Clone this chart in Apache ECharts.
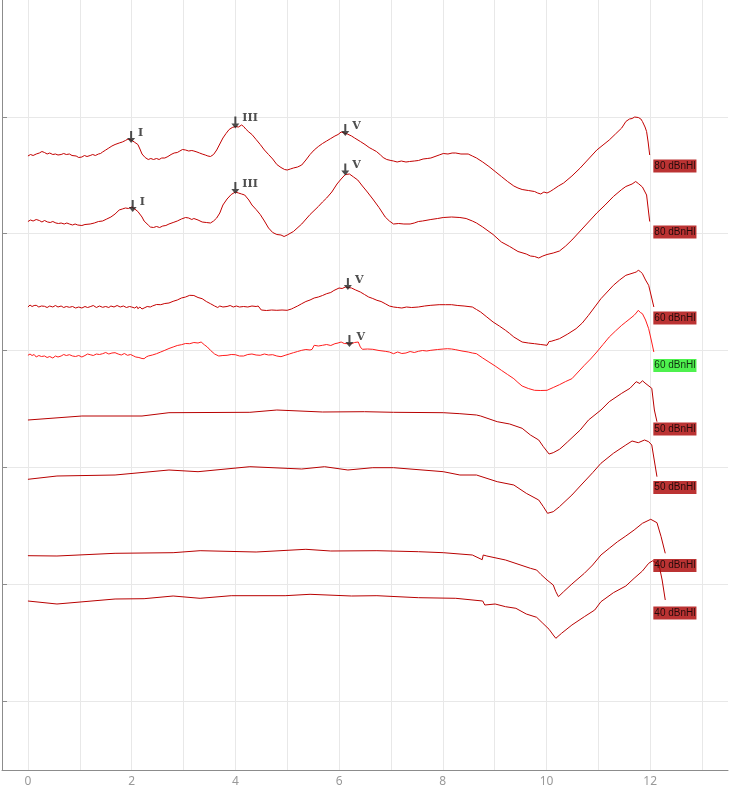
<!DOCTYPE html>
<html><head><meta charset="utf-8">
<script src="https://cdn.jsdelivr.net/npm/echarts@6/dist/echarts.min.js"></script>
<style>html,body{margin:0;padding:0;background:#fff}#c{width:730px;height:791px}</style>
</head><body><div id="c"></div>
<script>
// time axis (ms)
const xTickValues = [0,1,2,3,4,5,6,7,8,9,10,11,12,13];
const xLabelValues = [0,2,4,6,8,10,12];
const yTickValues = [69,186,303,420,537,653];

const trace1 = [[0.00,614],[0.05,615.5],[0.10,614.5],[0.16,616],[0.22,617],[0.27,618.5],[0.32,617.5],[0.37,616],[0.42,617],[0.48,615.5],[0.53,616],[0.58,615],[0.64,615.5],[0.69,616.5],[0.74,615.5],[0.80,616],[0.85,614.5],[0.88,613],[0.93,614],[0.98,612.5],[1.04,613],[1.09,614.5],[1.14,613.5],[1.20,614.5],[1.25,615.5],[1.30,614.5],[1.36,616],[1.40,616.5],[1.44,618],[1.50,620],[1.56,622],[1.62,624],[1.68,625.5],[1.76,627],[1.82,628],[1.88,629.5],[1.93,631],[1.99,630],[2.05,628],[2.12,625.5],[2.16,621],[2.20,616],[2.26,612.5],[2.32,610.5],[2.37,611.5],[2.42,610.5],[2.48,611.5],[2.53,610.5],[2.58,612],[2.64,612],[2.70,613.5],[2.76,615.5],[2.82,617],[2.88,617.5],[2.93,619],[2.98,620.5],[3.04,620],[3.10,619],[3.16,619.5],[3.20,619],[3.26,618],[3.31,617],[3.36,616],[3.42,615],[3.47,614],[3.52,613.5],[3.58,615.5],[3.64,620],[3.70,626],[3.76,632],[3.82,636.5],[3.88,640.5],[3.94,642.5],[4.00,643.5],[4.06,643],[4.12,645],[4.16,643.5],[4.20,641],[4.26,638],[4.32,635.5],[4.40,630.5],[4.48,625.5],[4.56,620],[4.64,615.5],[4.72,611],[4.80,605.5],[4.88,602.5],[4.95,600.5],[5.00,600],[5.06,601],[5.12,602],[5.20,603],[5.28,605],[5.36,610],[5.44,615.5],[5.52,620],[5.60,623.5],[5.68,626.5],[5.76,629],[5.84,631.5],[5.92,634],[5.98,635.5],[6.04,638],[6.10,637],[6.16,636],[6.24,634],[6.30,632],[6.41,628.5],[6.50,625.5],[6.58,622.5],[6.65,620.5],[6.72,618.5],[6.80,615],[6.85,612.5],[6.92,610.5],[7.00,609.5],[7.05,609],[7.12,608],[7.20,609],[7.29,608],[7.36,608.5],[7.45,609],[7.53,609.5],[7.62,611],[7.70,611.5],[7.77,612],[7.85,613.5],[7.93,615],[8.01,616.5],[8.10,616],[8.18,617],[8.25,617],[8.35,616],[8.49,616],[8.57,614],[8.65,612],[8.77,608],[8.89,603.5],[9.01,598.5],[9.13,593.5],[9.25,588.5],[9.37,584],[9.45,582],[9.53,580.5],[9.65,579.5],[9.77,578.5],[9.83,577],[9.89,576],[9.95,578],[10.01,577],[10.07,578.5],[10.13,580.5],[10.23,584],[10.33,587],[10.49,594],[10.65,602],[10.81,611],[10.97,620],[11.09,625],[11.21,630],[11.33,636],[11.45,642],[11.50,646],[11.53,648.5],[11.60,651],[11.65,651.5],[11.70,653],[11.77,652.5],[11.82,651],[11.85,648.5],[11.90,643],[11.93,638.5],[11.96,628],[11.99,615]];

const trace2 = [[0.00,548.5],[0.05,550],[0.10,549],[0.16,550.5],[0.22,549.5],[0.27,548],[0.32,549.5],[0.38,548],[0.43,547.5],[0.48,548.5],[0.54,547],[0.59,546.5],[0.64,547],[0.70,546],[0.75,547],[0.80,546],[0.86,545],[0.91,546],[0.96,545],[1.04,544.5],[1.10,545.5],[1.20,546],[1.28,547],[1.36,548.5],[1.44,549],[1.52,551],[1.60,553],[1.68,556],[1.76,560],[1.82,561],[1.88,562],[1.94,561.5],[2.00,563],[2.06,561],[2.12,558.5],[2.20,553],[2.24,549],[2.32,545],[2.36,543],[2.42,542.5],[2.48,543.5],[2.54,542.5],[2.60,544],[2.66,544.5],[2.72,546],[2.80,547.5],[2.88,549],[2.96,551],[3.04,552.5],[3.10,552],[3.16,550.5],[3.20,551.5],[3.28,550],[3.36,548],[3.44,547.5],[3.52,547],[3.58,549],[3.64,552],[3.70,557],[3.76,565],[3.84,571],[3.92,575.5],[4.00,578],[4.06,577],[4.12,576],[4.18,575],[4.26,570],[4.32,565],[4.40,560.5],[4.48,555.5],[4.56,549],[4.64,542],[4.72,537.5],[4.80,535.5],[4.88,535],[4.94,533.5],[5.00,535],[5.12,538.5],[5.28,546],[5.44,555.5],[5.60,563.5],[5.68,568],[5.76,572],[5.86,578],[5.96,586],[6.04,591],[6.12,595.5],[6.20,596],[6.28,593],[6.36,590],[6.45,584],[6.53,579],[6.65,571],[6.77,562.5],[6.89,553],[6.97,549],[7.05,546],[7.15,546.5],[7.25,546],[7.37,546],[7.45,547],[7.53,548.5],[7.61,549],[7.77,550.5],[7.90,551.5],[8.01,552.5],[8.17,553],[8.33,552.5],[8.45,551.5],[8.57,549],[8.65,547],[8.77,543],[8.97,535.5],[9.13,528],[9.29,523.5],[9.37,521],[9.45,518.5],[9.61,516],[9.69,514],[9.77,513.5],[9.85,512],[9.93,514],[10.01,515.5],[10.13,517],[10.25,519],[10.37,524],[10.49,530],[10.65,539],[10.81,548],[10.97,557],[11.13,565],[11.29,573.5],[11.45,580.5],[11.53,583.5],[11.65,586],[11.72,588.5],[11.77,586.5],[11.85,583],[11.93,575],[11.99,548.5]];

const trace3 = [[0.00,463],[0.04,465],[0.08,463.5],[0.12,464.5],[0.16,464.7],[0.21,463],[0.26,464],[0.32,463.7],[0.37,462.5],[0.42,464],[0.48,463],[0.53,464.5],[0.58,463],[0.64,464],[0.69,462.5],[0.74,463.5],[0.80,462.7],[0.86,463.5],[0.92,462],[0.98,463],[1.04,462],[1.10,463.5],[1.15,462.5],[1.20,463.3],[1.26,464.5],[1.32,462.5],[1.38,464],[1.44,462.7],[1.50,463.5],[1.56,462.5],[1.60,464],[1.66,463],[1.72,464.5],[1.78,463],[1.84,464],[1.90,462.5],[1.96,463.5],[2.00,463],[2.06,462],[2.10,463.5],[2.12,461.3],[2.16,463],[2.20,461],[2.24,462],[2.30,463.5],[2.36,463],[2.40,464],[2.48,465.5],[2.56,465.3],[2.64,466.5],[2.72,467],[2.80,468.7],[2.88,470],[2.96,472],[3.04,473],[3.12,474.7],[3.20,474.5],[3.28,472.5],[3.36,471.3],[3.44,468.5],[3.52,466.3],[3.60,464],[3.66,462.5],[3.70,464],[3.76,463],[3.84,463.5],[3.90,464.5],[3.96,463],[4.02,464],[4.08,463],[4.16,463.5],[4.24,463],[4.32,464],[4.40,463.5],[4.44,464],[4.50,460],[4.60,459.5],[4.70,460],[4.80,459.7],[4.90,460],[5.00,459.7],[5.08,461],[5.12,462],[5.20,464],[5.28,466.3],[5.36,468.5],[5.44,470],[5.52,472],[5.60,473],[5.68,474.5],[5.76,476.3],[5.84,477.5],[5.90,479.5],[5.96,481],[6.00,482],[6.06,481.5],[6.12,483],[6.18,482.5],[6.24,482],[6.32,480],[6.41,478],[6.49,475.5],[6.57,473],[6.65,471.5],[6.73,469.7],[6.81,468.5],[6.89,466.3],[6.97,464],[7.05,463],[7.13,462.5],[7.21,462],[7.30,463],[7.40,462.5],[7.53,463],[7.65,464],[7.77,464.7],[7.85,465],[7.93,465.3],[8.05,465.3],[8.17,465.3],[8.29,464.5],[8.41,464],[8.57,463],[8.65,460.5],[8.73,458],[8.85,453],[8.97,448],[9.09,444],[9.21,439.7],[9.29,436.5],[9.37,433],[9.45,430.5],[9.53,428],[9.65,427],[9.77,426.3],[9.89,425.5],[10.01,424.7],[10.05,428.5],[10.09,428.7],[10.17,430],[10.25,431.3],[10.41,436],[10.57,441.3],[10.69,447],[10.81,454.7],[10.93,463],[11.05,471.3],[11.17,478],[11.29,484.7],[11.41,490],[11.53,494.7],[11.61,496],[11.69,497.3],[11.73,498],[11.77,499.7],[11.81,498.5],[11.85,496.3],[11.91,490],[11.97,484.7],[12.02,474],[12.07,463]];

const trace4 = [[0.00,414.7],[0.04,416],[0.08,414.5],[0.12,415.5],[0.16,413],[0.21,414.5],[0.26,413.5],[0.32,414],[0.37,412.5],[0.42,413.5],[0.48,412],[0.53,414],[0.58,413],[0.64,414],[0.69,415.5],[0.74,414.5],[0.80,415.3],[0.86,414],[0.92,413.5],[0.98,414.5],[1.04,413],[1.10,414.5],[1.15,416],[1.20,415.3],[1.26,414.5],[1.32,416],[1.38,415.5],[1.44,416.3],[1.50,417.5],[1.56,416],[1.62,417],[1.68,417.3],[1.74,416],[1.80,415],[1.86,416.5],[1.92,414.7],[1.98,415.5],[2.04,414],[2.08,413],[2.14,412.5],[2.20,411.5],[2.24,411.3],[2.28,413],[2.32,414],[2.40,415],[2.48,416.3],[2.56,418],[2.64,419.7],[2.72,421.5],[2.80,423],[2.88,424.5],[2.96,425.3],[3.04,426.5],[3.12,426.3],[3.20,427.5],[3.28,427],[3.34,428],[3.40,425.3],[3.46,423],[3.52,419.7],[3.60,416],[3.68,414],[3.76,414.5],[3.84,414.7],[3.92,415.5],[4.00,415.3],[4.08,414],[4.16,414],[4.24,415.5],[4.32,416],[4.40,415],[4.48,414.7],[4.56,416],[4.64,415],[4.72,415.3],[4.80,414],[4.88,413.3],[4.96,414.7],[5.04,416],[5.12,417.3],[5.20,418.5],[5.28,419.7],[5.36,420.5],[5.44,420],[5.48,420.7],[5.52,424.7],[5.60,424],[5.68,424.7],[5.76,425.5],[5.84,424.5],[5.92,426.3],[5.98,427],[6.04,428],[6.10,426.5],[6.17,426.3],[6.24,426.3],[6.30,427.5],[6.37,428],[6.41,423],[6.45,420.7],[6.55,421],[6.65,420.7],[6.77,419.5],[6.89,418.7],[6.97,418],[7.05,416.3],[7.13,418],[7.21,416.5],[7.29,417],[7.37,418.5],[7.45,417.5],[7.53,418.7],[7.61,419.5],[7.69,419],[7.77,419.7],[7.90,420.5],[8.01,421],[8.09,421.3],[8.17,421],[8.25,420.3],[8.37,419],[8.49,418],[8.57,417],[8.65,416.3],[8.77,412],[8.89,408],[9.01,404],[9.13,399.7],[9.25,395.5],[9.37,391.3],[9.45,387.5],[9.53,384],[9.65,381.5],[9.77,379.7],[9.89,379.5],[10.01,379.7],[10.13,382.5],[10.25,385.3],[10.37,388.5],[10.49,391.3],[10.61,398],[10.73,404.7],[10.85,411],[10.97,418],[11.09,425.5],[11.21,433],[11.33,439],[11.45,444.7],[11.53,448],[11.61,451.3],[11.69,454.7],[11.73,457],[11.77,459.7],[11.81,457.5],[11.85,456.3],[11.91,450],[11.97,441.3],[12.02,430],[12.07,418]];

const trace5 = [[0,350],[1.04,354],[2.20,354],[2.72,357.3],[4.28,357.7],[4.80,360],[5.68,358],[6.49,358.3],[7.05,357.7],[8.01,357.3],[8.33,356.3],[8.65,355],[8.73,354],[9.05,348.3],[9.29,346],[9.53,341.7],[9.69,335],[9.85,330],[9.94,323.3],[10.05,316],[10.13,317.3],[10.25,320.7],[10.41,328.3],[10.65,340],[10.81,350],[11.05,360],[11.21,368.3],[11.45,376.7],[11.61,381.7],[11.73,388.3],[11.80,386.5],[11.85,389.3],[11.90,387],[11.93,387.3],[12.03,381.7],[12.08,360],[12.13,348.3]];

const trace6 = [[0,290.7],[0.56,294],[1.68,295],[2.72,300],[3.28,298.3],[4.28,303.3],[5.28,301],[5.72,303.3],[6.17,300],[6.65,302.3],[7.05,302.3],[7.85,299],[8.01,298.3],[8.33,295],[8.65,295],[9.05,288.3],[9.37,285],[9.61,276.7],[9.85,270],[9.94,263.3],[10.02,256.7],[10.13,258.3],[10.25,263.3],[10.49,275],[10.65,284],[10.89,297.3],[11.05,306.7],[11.29,316.7],[11.53,325],[11.65,329],[11.77,327.3],[11.89,330],[11.97,328.3],[12.03,325],[12.13,293.3]];

const trace7 = [[0,214.3],[0.56,214],[1.68,216.7],[2.80,217.3],[3.32,219.3],[4.40,218],[5.36,220.7],[5.84,219],[6.73,219.3],[7.53,218.3],[8.01,217.3],[8.57,215],[8.76,210.3],[8.78,215],[8.85,214],[9.21,210],[9.69,201.7],[9.81,200],[9.89,195.7],[10.01,190],[10.13,185],[10.18,178.3],[10.23,173.3],[10.33,178.3],[10.49,186],[10.73,196.7],[10.89,205],[11.05,215],[11.21,221.7],[11.37,228.3],[11.53,234],[11.69,240],[11.85,246.7],[12.01,250.7],[12.13,247.3],[12.21,233.3],[12.29,216.7]];

const trace8 = [[0,169],[0.56,166],[1.68,171],[2.24,171.3],[2.80,174],[3.32,171.7],[3.92,174.3],[4.96,174.3],[5.44,175.7],[6.24,174],[6.73,174.3],[7.53,172.3],[8.25,171.7],[8.77,169],[8.81,165],[9.01,166],[9.21,163.3],[9.41,161.7],[9.61,156],[9.81,152.7],[9.93,146.7],[10.05,140.7],[10.13,135],[10.18,131.7],[10.29,136.7],[10.49,145],[10.73,153.3],[10.93,160],[11.05,168.3],[11.29,177.3],[11.53,184],[11.69,191.7],[11.85,199],[11.97,206.7],[12.05,209.3],[12.17,205],[12.23,190],[12.29,170]];

const traces = [trace1, trace2, trace3, trace4, trace5, trace6, trace7, trace8];
const traceColors = ['#c20000','#c20000','#c40000','#ff1c1c','#b80000','#b80000','#b80000','#b80000'];

// wave markers
const peakNames = ['I','III','V','I','III','V','V','V'];
const peakX = [1.99, 4.00, 6.12, 2.02, 4.00, 6.12, 6.17, 6.20];
const peakY = [627, 641.5, 634, 558, 576, 594.5, 480, 423];

// intensity labels
const levelNames = ['80 dBnHl','80 dBnHl','60 dBnHl','60 dBnHl','50 dBnHl','50 dBnHl','40 dBnHl','40 dBnHl'];
const levelX = 12.06;
const levelY = [604, 538, 452, 404.5, 341, 282.5, 204.5, 157];
const levelColors = ['#aa0000','#aa0000','#aa0000','#22ee22','#aa0000','#aa0000','#aa0000','#aa0000'];

const chart = echarts.init(document.getElementById('c'), null, {renderer:'canvas'});
const series = traces.map((d, i) => ({
  type: 'line', data: d, symbol: 'none', silent: true, animation: false,
  lineStyle: {color: traceColors[i], width: 1}, z: 2
}));
series.push({
  type: 'scatter', silent: true, animation: false, z: 5,
  symbol: 'path://M3,0 L5,0 L5,7 L8,7 L4,12 L0,7 L3,7 Z',
  symbolSize: [8, 12], symbolOffset: [0, -6],
  itemStyle: {color: '#222'},
  label: {show: true, position: 'right', distance: 3, offset: [0, -4],
    formatter: p => p.name, color: '#222', fontFamily: 'DejaVu Serif', fontWeight: 'bold', fontSize: 11},
  data: peakNames.map((n, i) => ({name: n, value: [peakX[i], peakY[i]]}))
});
series.push({
  type: 'scatter', silent: true, animation: false, z: 6,
  symbolSize: 0,
  label: {show: true, position: 'right', distance: 0, formatter: p => p.name,
    color: '#000', fontFamily: 'Liberation Sans', fontSize: 10, lineHeight: 11, padding: [1, 1, 1, 1]},
  data: levelNames.map((n, i) => ({name: n, value: [levelX, levelY[i]],
    label: {backgroundColor: levelColors[i]}}))
});

chart.setOption({
  animation: false,
  grid: {left: 2, right: 2, top: 0, bottom: 21, containLabel: false},
  xAxis: {
    type: 'value', min: -0.5, max: 13.5,
    axisLine: {show: true, onZero: false, lineStyle: {color: '#8c8c8c', width: 1}},
    axisTick: {show: false, customValues: xTickValues},
    axisLabel: {customValues: xLabelValues, color: '#999', fontSize: 12, fontFamily: 'Noto Sans', margin: 6},
    splitLine: {show: true, lineStyle: {color: '#e8e8e8', width: 1}}
  },
  yAxis: {
    type: 'value', min: 0, max: 770,
    axisLine: {show: true, onZero: false, lineStyle: {color: '#8c8c8c', width: 1}},
    axisTick: {show: true, inside: true, length: 5, customValues: yTickValues, lineStyle: {color: '#8c8c8c'}},
    axisLabel: {show: false},
    splitLine: {show: true, lineStyle: {color: '#e8e8e8', width: 1}}
  },
  series: series
});
</script>
</body></html>
